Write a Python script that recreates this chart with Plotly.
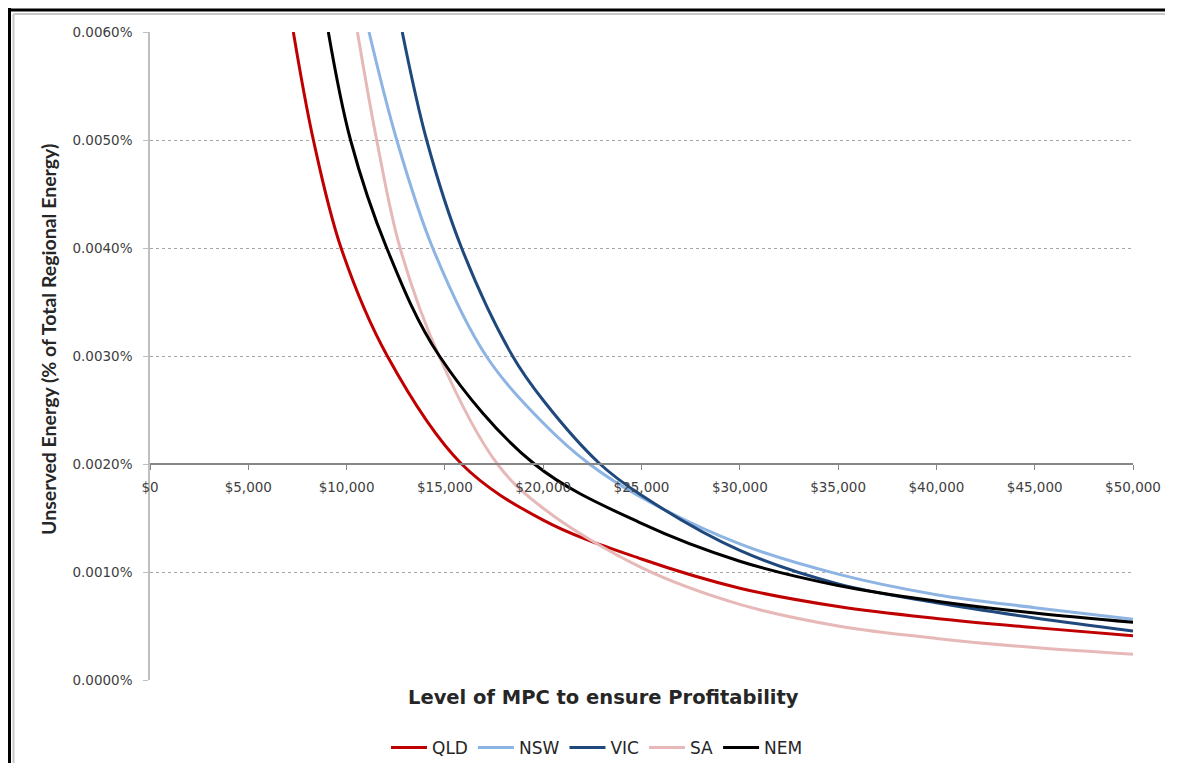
import plotly.graph_objects as go

# MPC level ($) and unserved energy (% of total regional energy)
qld_x = [7290, 8310, 9720, 12070, 15850, 20000, 25000, 30000, 35000, 40000, 45000, 50000]
qld_y = [0.0060, 0.0050, 0.0040, 0.0030, 0.0020, 0.00148, 0.00112, 0.00085, 0.00068, 0.00057, 0.000485, 0.00041]

nsw_x = [11140, 12550, 14380, 17100, 20000, 22350, 25000, 30000, 35000, 40000, 45000, 50000]
nsw_y = [0.0060, 0.0050, 0.0040, 0.0030, 0.00238, 0.0020, 0.00169, 0.00126, 0.00098, 0.00079, 0.00067, 0.000562]

vic_x = [12830, 14070, 15850, 18440, 20000, 22890, 25000, 30000, 35000, 40000, 45000, 50000]
vic_y = [0.0060, 0.0050, 0.0040, 0.0030, 0.00259, 0.0020, 0.00171, 0.00120, 0.00089, 0.000715, 0.000575, 0.000454]

sa_x = [10550, 11530, 12720, 14700, 17670, 20000, 25000, 30000, 35000, 40000, 45000, 50000]
sa_y = [0.0060, 0.0050, 0.0040, 0.0030, 0.0020, 0.00159, 0.00104, 0.00070, 0.00050, 0.000385, 0.00030, 0.000238]

nem_x = [9070, 10200, 12040, 14720, 19550, 25000, 30000, 35000, 40000, 45000, 50000]
nem_y = [0.0060, 0.0050, 0.0040, 0.0030, 0.0020, 0.00145, 0.00110, 0.000875, 0.00073, 0.00062, 0.000534]

series = [
    ("QLD", qld_x, qld_y, "#C00000"),
    ("NSW", nsw_x, nsw_y, "#8DB4E2"),
    ("VIC", vic_x, vic_y, "#1F497D"),
    ("SA", sa_x, sa_y, "#E6B9B8"),
    ("NEM", nem_x, nem_y, "#000000"),
]

# page body has an 8px margin, so shrink and shift the figure to keep it in the window
OFF = 8
W, H = 1177 - 2 * OFF - 4, 775 - 2 * OFF - 4
PL, PR, PT, PB = 150, 1133, 32, 680  # plot area in page pixels
L, T = PL - OFF, PT - OFF
R, B = W - (PR - OFF), H - (PB - OFF)
pw, ph = PR - PL, PB - PT

# page pixel -> paper helpers
def px(x):
    return (x - PL) / pw

def py(y):
    return (PB - y) / ph

fig = go.Figure()
for name, xs, ys, col in series:
    fig.add_trace(go.Scatter(x=xs, y=ys, name=name, mode="lines",
                             line=dict(color=col, width=3, shape="spline", smoothing=1)))

tick_font = dict(family="DejaVu Sans", size=13.5, color="#404040")

fig.update_layout(
    width=W, height=H,
    margin=dict(l=L, r=R, t=T, b=B, autoexpand=False),
    paper_bgcolor="white", plot_bgcolor="white",
    showlegend=True,
    legend=dict(orientation="h", x=px(597), xanchor="center", y=py(748), yanchor="middle",
                font=dict(family="DejaVu Sans", size=17, color="#262626"),
                itemwidth=36, bgcolor="rgba(0,0,0,0)"),
    xaxis=dict(range=[0, 50000], dtick=5000, tickprefix="$", tickformat=",",
               anchor="free", position=py(464), showgrid=False, zeroline=False,
               showline=True, linecolor="#868686", linewidth=1.5, automargin=False,
               ticks="outside", ticklen=5, tickcolor="#868686", tickfont=tick_font,
               ticklabelstandoff=6),
    yaxis=dict(range=[0, 0.006], dtick=0.001, tickformat=".4f", ticksuffix="%",
               showgrid=True, gridcolor="#A6A6A6", griddash="dot", gridwidth=1,
               zeroline=False, showline=True, linecolor="#BFBFBF", linewidth=1.5,
               automargin=False,
               ticks="outside", ticklen=5, tickcolor="#BFBFBF", tickfont=tick_font,
               ticklabelstandoff=8),
)

fig.add_annotation(text="Level of MPC to ensure Profitability", xref="paper", yref="paper",
                   x=px(603), y=py(697), xanchor="center", yanchor="middle", showarrow=False,
                   font=dict(family="DejaVu Sans", size=19.5, color="#262626", weight="bold"))
fig.add_annotation(text="Unserved Energy (% of Total Regional Energy)", xref="paper", yref="paper",
                   x=px(48), y=py(340), xanchor="center", yanchor="middle", showarrow=False,
                   textangle=-90,
                   font=dict(family="Lato", size=19.5, color="#262626", weight="bold"))

# outer frame lines
frame = [
    (px(9.5), py(8), px(9.5), py(775), "black", 3),
    (px(8), py(10), px(1177), py(10), "black", 3),
    (px(13.5), py(14), px(13.5), py(773), "#C8C8C8", 2),
    (px(13.5), py(14), px(1177), py(14), "#C8C8C8", 2),
]
for x0, y0, x1, y1, c, w in frame:
    fig.add_shape(type="line", xref="paper", yref="paper", x0=x0, y0=y0, x1=x1, y1=y1,
                  line=dict(color=c, width=w))

fig.write_html("out.html")
